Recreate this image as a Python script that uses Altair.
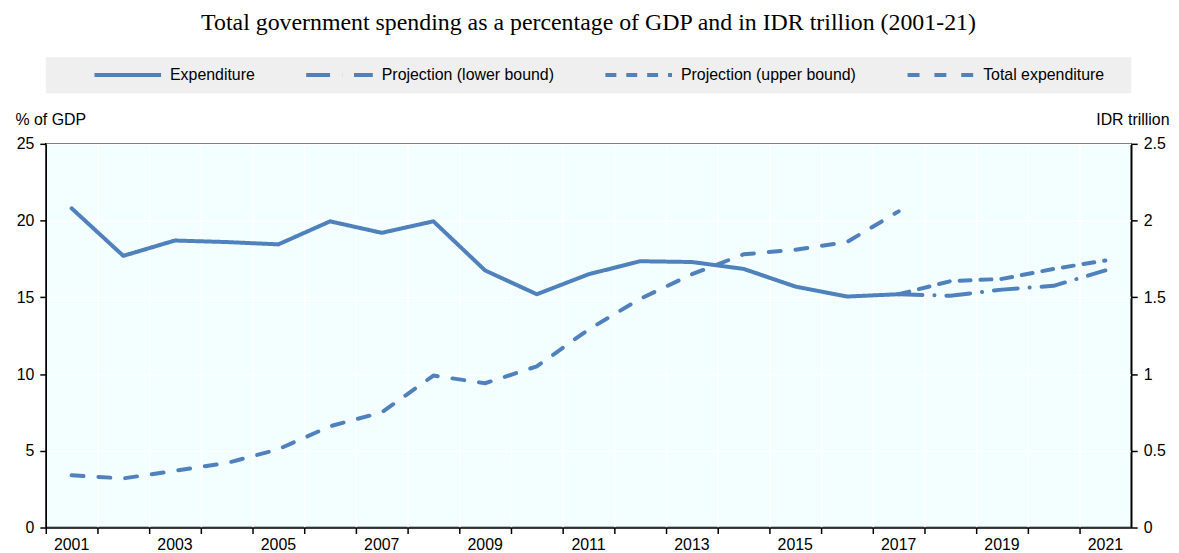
import altair as alt
import pandas as pd

years_hist = list(range(2001, 2018))
years_proj = list(range(2017, 2022))

expenditure = [20.8, 17.7, 18.7, 18.6, 18.45, 19.95, 19.2, 19.95, 16.75, 15.2,
               16.5, 17.35, 17.3, 16.85, 15.7, 15.05, 15.2]
proj_lower = [15.2, 15.1, 15.5, 15.75, 16.75]
proj_upper = [15.2, 16.05, 16.2, 16.85, 17.4]
total_exp = [0.34, 0.32, 0.37, 0.42, 0.51, 0.66, 0.75, 0.99, 0.94, 1.05,
             1.29, 1.49, 1.65, 1.78, 1.81, 1.86, 2.06]

series_names = ["Expenditure", "Projection (lower bound)",
                "Projection (upper bound)", "Total expenditure"]
dash_range = [[1, 0], [24, 12, 0.1, 12], [11, 10], [12, 15]]

all_years = list(range(2001, 2022))

rows = []
for y, v in zip(years_hist, expenditure):
    rows.append({"year": y, "value": v, "series": series_names[0]})
for y, v in zip(years_proj, proj_lower):
    rows.append({"year": y, "value": v, "series": series_names[1]})
for y, v in zip(years_proj, proj_upper):
    rows.append({"year": y, "value": v, "series": series_names[2]})
left_df = pd.DataFrame(rows)
right_df = pd.DataFrame({"year": years_hist, "value": total_exp,
                         "series": series_names[3]})

BLUE = "#4F81BD"
FONT = "Liberation Sans, Arial, sans-serif"
W, H = 1092, 386

x_enc = alt.X(
    "year:O",
    scale=alt.Scale(type="band", domain=all_years, paddingInner=0, paddingOuter=0),
    axis=alt.Axis(
        title=None, bandPosition=0, labelAngle=0,
        labelExpr="datum.value % 2 == 1 ? datum.label : ''",
        tickSize=6, tickColor="black", tickWidth=1.5,
        domainColor="black", domainWidth=1.5,
        grid=True, gridColor="white", gridWidth=1.5,
        labelFont=FONT, labelFontSize=16, labelColor="black", labelPadding=3,
    ),
)

dash_enc = alt.StrokeDash(
    "series:N",
    scale=alt.Scale(domain=series_names, range=dash_range),
    legend=alt.Legend(
        title=None, orient="none", legendX=47, legendY=-105, direction="horizontal",
        symbolType="stroke", symbolSize=4489, symbolStrokeWidth=4,
        symbolStrokeColor=BLUE, labelFont=FONT, labelFontSize=16,
        labelColor="black", columnPadding=43, labelOffset=7, padding=0,
        labelLimit=400,
    ),
)

left = alt.Chart(left_df).mark_line(color=BLUE, strokeWidth=4, strokeCap="round",
                                    strokeJoin="round").encode(
    x=x_enc,
    y=alt.Y("value:Q", scale=alt.Scale(domain=[0, 25], nice=False),
            axis=alt.Axis(orient="left", values=[0, 5, 10, 15, 20, 25],
                          title="% of GDP", titleAngle=0, titleAlign="left",
                          titleBaseline="bottom", titleX=-31, titleY=-16,
                          titleFont=FONT, titleFontSize=16, titleFontWeight="normal",
                          titleColor="black",
                          tickSize=6, tickColor="black", tickWidth=1.5,
                          domainColor="black", domainWidth=1.5,
                          grid=True, gridColor="white", gridWidth=1.5,
                          labelFont=FONT, labelFontSize=16, labelColor="black",
                          labelPadding=6)),
    strokeDash=dash_enc,
    detail="series:N",
)

right = alt.Chart(right_df).mark_line(color=BLUE, strokeWidth=4, strokeCap="round",
                                      strokeJoin="round").encode(
    x=x_enc,
    y=alt.Y("value:Q", scale=alt.Scale(domain=[0, 2.5], nice=False),
            axis=alt.Axis(orient="right", values=[0, 0.5, 1, 1.5, 2, 2.5],
                          format="~g",
                          title="IDR trillion", titleAngle=0, titleAlign="right",
                          titleBaseline="bottom", titleX=38, titleY=-16,
                          titleFont=FONT, titleFontSize=16, titleFontWeight="normal",
                          titleColor="black",
                          tickSize=6, tickColor="black", tickWidth=1.5,
                          domainColor="black", domainWidth=1.5, grid=False,
                          labelFont=FONT, labelFontSize=16, labelColor="black",
                          labelPadding=6)),
    strokeDash=dash_enc,
)

legend_bg = alt.Chart(pd.DataFrame({"k": [0]})).mark_rect(color="#EFEFEF").encode(
    x=alt.value(0), x2=alt.value(W), y=alt.value(-87), y2=alt.value(-51)
)

chart = alt.layer(legend_bg, left, right).resolve_scale(y="independent").properties(
    width=W, height=H,
    padding={"left": 7, "top": 1, "right": 2, "bottom": 2},
    title=alt.TitleParams(
        "Total government spending as a percentage of GDP and in IDR trillion (2001-21)",
        font="Liberation Serif", fontSize=24, fontWeight="normal", color="black",
        anchor="middle", offset=5,
    ),
).configure_view(fill="#F2FEFF", stroke="black", strokeWidth=1.5)

chart.save("out.html", embed_options={"renderer": "svg", "actions": False})
